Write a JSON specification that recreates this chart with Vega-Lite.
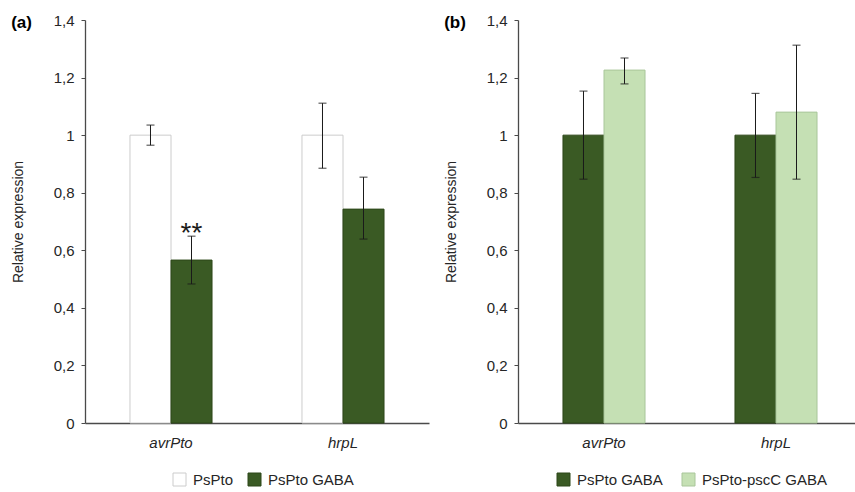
{
  "$schema": "https://vega.github.io/schema/vega-lite/v6.json",
  "padding": {"left": 11, "top": 13, "right": 5, "bottom": 5},
  "background": "white",
  "config": {
    "font": "Liberation Sans",
    "view": {"stroke": null},
    "axis": {"labelFont": "Liberation Sans", "titleFont": "Liberation Sans", "labelColor": "#262626", "titleColor": "#262626", "grid": false},
    "legend": {"labelFont": "Liberation Sans", "labelFontSize": 15, "labelColor": "#262626", "symbolType": "square", "symbolSize": 169, "symbolStrokeWidth": 1, "labelOffset": 6, "columnPadding": 12, "orient": "none", "direction": "horizontal", "legendY": 452, "title": null},
    "title": {"font": "Liberation Sans", "fontSize": 17, "fontWeight": "bold", "color": "#000000", "anchor": "start", "frame": "bounds", "baseline": "middle", "offset": 0, "dy": 23}
  },
  "datasets": {
    "expr": [
      {"panel": "a", "gene": "avrPto", "group": "PsPto", "value": 1.0, "lo": 0.965, "hi": 1.035, "sig": ""},
      {"panel": "a", "gene": "avrPto", "group": "PsPto GABA", "value": 0.566, "lo": 0.483, "hi": 0.649, "sig": "**"},
      {"panel": "a", "gene": "hrpL", "group": "PsPto", "value": 1.0, "lo": 0.885, "hi": 1.111, "sig": ""},
      {"panel": "a", "gene": "hrpL", "group": "PsPto GABA", "value": 0.743, "lo": 0.639, "hi": 0.854, "sig": ""},
      {"panel": "b", "gene": "avrPto", "group": "PsPto GABA", "value": 1.0, "lo": 0.847, "hi": 1.153, "sig": ""},
      {"panel": "b", "gene": "avrPto", "group": "PsPto-pscC GABA", "value": 1.226, "lo": 1.178, "hi": 1.268, "sig": ""},
      {"panel": "b", "gene": "hrpL", "group": "PsPto GABA", "value": 1.0, "lo": 0.853, "hi": 1.145, "sig": ""},
      {"panel": "b", "gene": "hrpL", "group": "PsPto-pscC GABA", "value": 1.08, "lo": 0.847, "hi": 1.3125, "sig": ""}
    ]
  },
  "spacing": 15,
  "resolve": {"scale": {"fill": "independent", "stroke": "independent", "xOffset": "independent"}, "legend": {"fill": "independent", "stroke": "independent"}},
  "hconcat": [
    {
      "title": {"text": "(a)"},
      "width": 344,
      "height": 403,
      "data": {"name": "expr"},
      "transform": [{"filter": "datum.panel === 'a'"}],
      "encoding": {
        "x": {"field": "gene", "type": "nominal", "sort": ["avrPto", "hrpL"], "scale": {"paddingInner": 0.523, "paddingOuter": 0.2615},
          "axis": {"title": null, "labelAngle": 0, "labelFontSize": 15, "labelFontStyle": "italic", "ticks": false, "tickSize": 0, "labelPadding": 12, "domainColor": "#4a4a4a", "domainWidth": 1.5}},
        "xOffset": {"field": "group", "type": "nominal", "sort": ["PsPto", "PsPto GABA"]}
      },
      "layer": [
        {
          "mark": {"type": "bar", "strokeWidth": 1},
          "encoding": {
            "y": {"field": "value", "type": "quantitative", "scale": {"domain": [0, 1.4]},
              "axis": {"title": "Relative expression", "titleFontSize": 14, "titleFontWeight": "normal", "titlePadding": 28, "values": [0, 0.2, 0.4, 0.6, 0.8, 1, 1.2, 1.4], "labelExpr": "replace(format(datum.value, '.1~f'), '.', ',')", "labelFontSize": 15, "labelPadding": 7, "tickSize": 4, "tickColor": "#4a4a4a", "domainColor": "#4a4a4a", "domainWidth": 1.3}},
            "fill": {"field": "group", "type": "nominal", "scale": {"domain": ["PsPto", "PsPto GABA"], "range": ["#ffffff", "#3a5a24"]}, "legend": {"legendX": 87}},
            "stroke": {"field": "group", "type": "nominal", "scale": {"domain": ["PsPto", "PsPto GABA"], "range": ["#cccccc", "#2d4719"]}, "legend": {"legendX": 87}}
          }
        },
        {
          "mark": {"type": "rule", "color": "#1a1a1a", "strokeWidth": 1},
          "encoding": {"y": {"field": "lo", "type": "quantitative"}, "y2": {"field": "hi"}}
        },
        {
          "mark": {"type": "tick", "color": "#1a1a1a", "thickness": 1.2, "size": 8},
          "encoding": {"y": {"field": "lo", "type": "quantitative"}}
        },
        {
          "mark": {"type": "tick", "color": "#1a1a1a", "thickness": 1.2, "size": 8},
          "encoding": {"y": {"field": "hi", "type": "quantitative"}}
        },
        {
          "transform": [{"filter": "datum.sig !== ''"}],
          "mark": {"type": "text", "fontSize": 28, "baseline": "alphabetic", "dy": 6, "color": "#1a1a1a", "font": "Liberation Sans"},
          "encoding": {"y": {"field": "hi", "type": "quantitative"}, "text": {"field": "sig"}}
        }
      ]
    },
    {
      "title": {"text": "(b)"},
      "width": 344,
      "height": 403,
      "data": {"name": "expr"},
      "transform": [{"filter": "datum.panel === 'b'"}],
      "encoding": {
        "x": {"field": "gene", "type": "nominal", "sort": ["avrPto", "hrpL"], "scale": {"paddingInner": 0.523, "paddingOuter": 0.2615},
          "axis": {"title": null, "labelAngle": 0, "labelFontSize": 15, "labelFontStyle": "italic", "ticks": false, "tickSize": 0, "labelPadding": 12, "domainColor": "#4a4a4a", "domainWidth": 1.5}},
        "xOffset": {"field": "group", "type": "nominal", "sort": ["PsPto GABA", "PsPto-pscC GABA"]}
      },
      "layer": [
        {
          "mark": {"type": "bar", "strokeWidth": 1},
          "encoding": {
            "y": {"field": "value", "type": "quantitative", "scale": {"domain": [0, 1.4]},
              "axis": {"title": "Relative expression", "titleFontSize": 14, "titleFontWeight": "normal", "titlePadding": 28, "values": [0, 0.2, 0.4, 0.6, 0.8, 1, 1.2, 1.4], "labelExpr": "replace(format(datum.value, '.1~f'), '.', ',')", "labelFontSize": 15, "labelPadding": 7, "tickSize": 4, "tickColor": "#4a4a4a", "domainColor": "#4a4a4a", "domainWidth": 1.3}},
            "fill": {"field": "group", "type": "nominal", "scale": {"domain": ["PsPto GABA", "PsPto-pscC GABA"], "range": ["#3a5a24", "#c5e0b4"]}, "legend": {"columnPadding": 17, "legendX": 38}},
            "stroke": {"field": "group", "type": "nominal", "scale": {"domain": ["PsPto GABA", "PsPto-pscC GABA"], "range": ["#2d4719", "#a9c69a"]}, "legend": {"columnPadding": 17, "legendX": 38}}
          }
        },
        {
          "mark": {"type": "rule", "color": "#1a1a1a", "strokeWidth": 1},
          "encoding": {"y": {"field": "lo", "type": "quantitative"}, "y2": {"field": "hi"}}
        },
        {
          "mark": {"type": "tick", "color": "#1a1a1a", "thickness": 1.2, "size": 8},
          "encoding": {"y": {"field": "lo", "type": "quantitative"}}
        },
        {
          "mark": {"type": "tick", "color": "#1a1a1a", "thickness": 1.2, "size": 8},
          "encoding": {"y": {"field": "hi", "type": "quantitative"}}
        }
      ]
    }
  ]
}
